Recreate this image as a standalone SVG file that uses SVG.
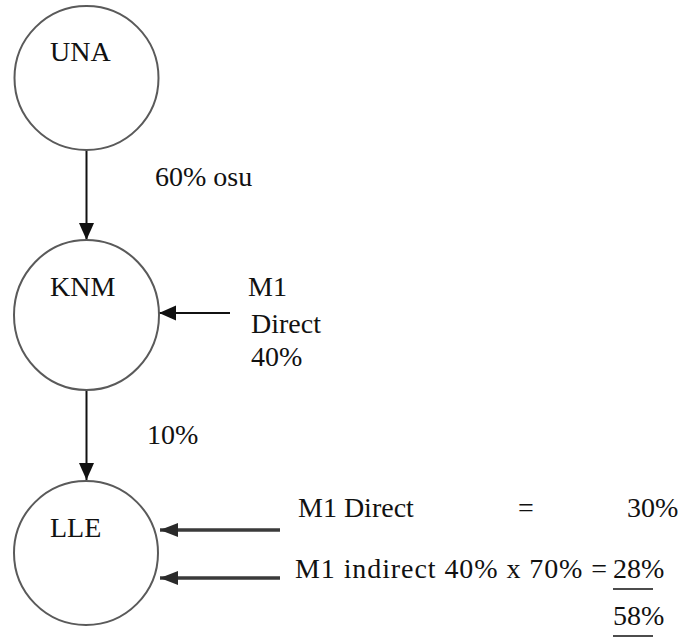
<svg xmlns="http://www.w3.org/2000/svg" width="681" height="643" viewBox="0 0 681 643">
<style>
.node{fill:#fff;stroke:#5a5a5a;stroke-width:2}
.t{font-family:'Liberation Serif','DejaVu Serif','Noto Serif',Tinos,'Times New Roman',serif;font-size:28px;fill:#111}
.c{stroke:#111;stroke-width:2;fill:none}
.cg{stroke:#3a3a3a;stroke-width:3.5;fill:none}
.ul{stroke:#111;stroke-width:1.5}
</style>
<defs>
<marker id="ah" markerUnits="userSpaceOnUse" markerWidth="18" markerHeight="16" refX="17" refY="7.5" orient="auto">
<path d="M0,0 L17,7.5 L0,15 z" fill="#111"/>
</marker>
<marker id="ahg" markerUnits="userSpaceOnUse" markerWidth="19" markerHeight="16" refX="18" refY="7" orient="auto">
<path d="M0,0 L18,7 L0,14 z" fill="#2a2a2a"/>
</marker>
</defs>
<rect width="681" height="643" fill="#fff"/>
<g id="connectors">
<line class="c" x1="86.5" y1="150" x2="86.5" y2="240" marker-end="url(#ah)"/>
<line class="c" x1="86.5" y1="390" x2="86.5" y2="480" marker-end="url(#ah)"/>
<line class="c" x1="230" y1="313" x2="159" y2="313" marker-end="url(#ah)"/>
<line class="cg" x1="280" y1="530" x2="160" y2="530" marker-end="url(#ahg)"/>
<line class="cg" x1="280" y1="578" x2="160" y2="578" marker-end="url(#ahg)"/>
</g>
<g id="node-una">
<circle class="node" cx="86.5" cy="78" r="72"/>
<text class="t" x="50" y="61" font-family="Liberation Serif, serif">UNA</text>
</g>
<g id="node-knm">
<ellipse class="node" cx="86.5" cy="315" rx="72.5" ry="75"/>
<text class="t" x="50" y="296">KNM</text>
</g>
<g id="node-lle">
<circle class="node" cx="86" cy="553" r="72"/>
<text class="t" x="50" y="537">LLE</text>
</g>
<g id="labels">
<text class="t" x="155" y="186">60% osu</text>
<text class="t" x="248" y="296">M1</text>
<text class="t" x="251" y="333">Direct</text>
<text class="t" x="251" y="366">40%</text>
<text class="t" x="147" y="444">10%</text>
<text class="t" x="298" y="517">M1 Direct</text>
<text class="t" x="518" y="517">=</text>
<text class="t" x="627" y="517">30%</text>
<text class="t" x="295" y="578" textLength="312">M1 indirect 40% x 70% =</text>
<text class="t" x="613" y="578">28%</text>
<line class="ul" x1="613" y1="589" x2="653" y2="589"/>
<text class="t" x="613" y="625">58%</text>
<line class="ul" x1="613" y1="636" x2="653" y2="636"/>
</g>
</svg>
